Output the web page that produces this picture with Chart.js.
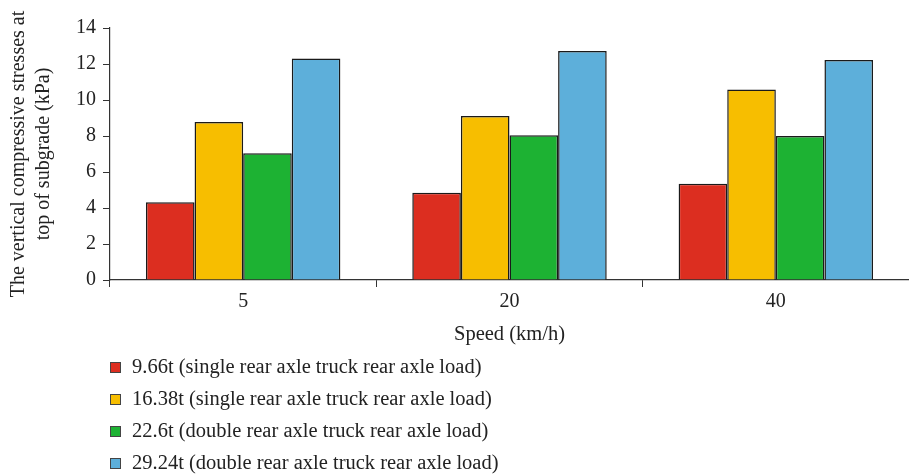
<!DOCTYPE html>
<html>
<head>
<meta charset="utf-8">
<script src="https://cdn.jsdelivr.net/npm/chart.js@4.4.0/dist/chart.umd.min.js"></script>
<style>
  html, body { margin:0; padding:0; background:#fff; }
  #wrap { width:909px; height:475px; position:relative; }
</style>
</head>
<body>
<div id="wrap"><canvas id="chart"></canvas></div>
<script>
// ===== DATA =====
const speeds = ['5', '20', '40'];
const loadLabels = [
  '9.66t (single rear axle truck rear axle load)',
  '16.38t (single rear axle truck rear axle load)',
  '22.6t (double rear axle truck rear axle load)',
  '29.24t (double rear axle truck rear axle load)'
];
const load966 = [4.32, 4.85, 5.35];
const load1638 = [8.78, 9.11, 10.59];
const load226 = [7.04, 8.04, 8.0];
const load2924 = [12.31, 12.72, 12.22];
const barColors = ['#DC2E20', '#F7BE00', '#1DB233', '#5DAFDA'];
const yTitle = ['The vertical compressive stresses at', 'top of subgrade (kPa)'];
const xTitle = 'Speed (km/h)';

const FONT = "'Liberation Serif', 'Times New Roman', serif";
const INK = '#222';

// légende verticale sous le graphe (Chart.js ne sait pas empiler en colonne en bas)
const columnLegend = {
  id: 'columnLegend',
  afterDraw(chart) {
    const ctx = chart.ctx;
    ctx.save();
    ctx.font = '20.5px ' + FONT;
    ctx.textBaseline = 'middle';
    chart.data.datasets.forEach((ds, i) => {
      const y = 367 + i * 32;
      ctx.fillStyle = ds.backgroundColor;
      ctx.fillRect(110, y - 5, 10, 10);
      ctx.strokeStyle = '#444';
      ctx.lineWidth = 1;
      ctx.strokeRect(110.5, y - 4.5, 10, 10);
      ctx.fillStyle = INK;
      ctx.fillText(ds.label, 132, y + 1);
    });
    ctx.restore();
  }
};

const datasets = [load966, load1638, load226, load2924].map((d, i) => ({
  label: loadLabels[i],
  data: d,
  backgroundColor: barColors[i],
  borderColor: '#1a1a1a',
  borderWidth: 1.5,
  categoryPercentage: 0.73,
  barPercentage: 1.0
}));

new Chart(document.getElementById('chart'), {
  type: 'bar',
  data: { labels: speeds, datasets },
  plugins: [columnLegend],
  options: {
    responsive: true,
    maintainAspectRatio: false,
    animation: false,
    layout: { padding: { top: 28, right: -2, bottom: 125, left: 0 } },
    plugins: { legend: { display: false }, tooltip: { enabled: false } },
    scales: {
      x: {
        grid: { drawOnChartArea: false, drawTicks: true, tickLength: 7, color: '#333', lineWidth: 1 },
        border: { display: true, color: '#333', width: 1.2 },
        ticks: { color: INK, font: { family: FONT, size: 20 }, padding: 3 },
        title: { display: true, text: xTitle, color: INK, font: { family: FONT, size: 20.5, lineHeight: 1.25 }, padding: { top: 0, bottom: 3 } },
        afterFit: s => { s.height = 70; }
      },
      y: {
        min: 0, max: 14,
        grid: { drawOnChartArea: false, drawTicks: true, tickLength: 7, color: '#333', lineWidth: 1 },
        border: { display: true, color: '#333', width: 1.2 },
        ticks: { stepSize: 2, color: INK, font: { family: FONT, size: 20 }, padding: 7 },
        title: { display: true, text: yTitle, color: INK, font: { family: FONT, size: 20, lineHeight: 1.25 }, padding: { top: 6, bottom: 0 } },
        afterFit: s => { s.width = 110; }
      }
    }
  }
});
</script>
</body>
</html>
